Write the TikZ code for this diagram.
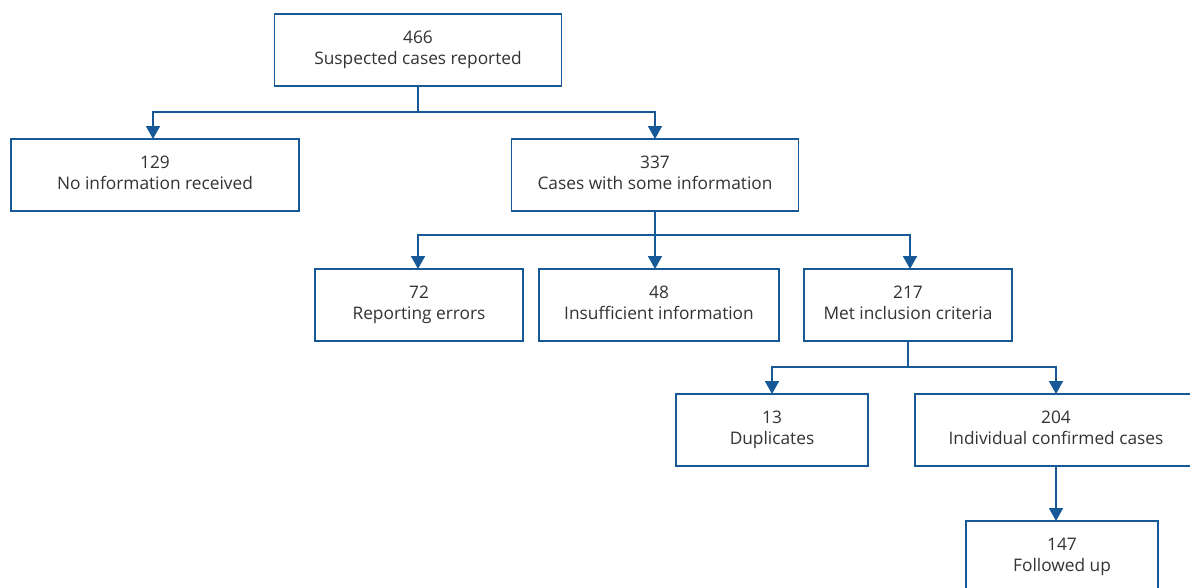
\documentclass[tikz,border=0pt]{standalone}
\usepackage{fontspec}
\setmainfont{Open Sans}
\usetikzlibrary{arrows.meta}
\definecolor{lineblue}{RGB}{22,89,150}
\definecolor{txt}{RGB}{51,51,51}
\newcommand{\twolines}[2]{\strut#1\\\strut#2}
\tikzset{
  box/.style={draw=lineblue, line width=1.8pt, fill=white, text=txt, align=center,
    inner sep=0pt, font=\fontsize{17.3}{21}\selectfont, minimum height=72pt},
  link/.style={draw=lineblue, line width=1.8pt},
  arr/.style={link, -{Triangle[length=13pt,width=14pt]}},
}
\begin{document}
\begin{tikzpicture}[x=1pt,y=-1pt]
\useasboundingbox (0,0) rectangle (1190,587);
\clip (0,0) rectangle (1190,587);
\node[box, minimum width=287pt] (top) at (418,50) {\twolines{466}{Suspected cases reported}};
\node[box, minimum width=288pt] (n129) at (155,175) {\twolines{129}{No information received}};
\node[box, minimum width=287pt] (n337) at (655,175) {\twolines{337}{Cases with some information}};
\node[box, minimum width=208pt] (n72) at (419,305) {\twolines{72}{Reporting errors}};
\node[box, minimum width=240pt] (n48) at (659,305) {\twolines{48}{Insufficient information}};
\node[box, minimum width=208pt] (n217) at (908,305) {\twolines{217}{Met inclusion criteria}};
\node[box, minimum width=192pt] (n13) at (772,430) {\twolines{13}{Duplicates}};
\node[box, minimum width=282pt] (n204) at (1056,430) {\twolines{204}{Individual confirmed cases}};
\node[box, minimum width=192pt] (n147) at (1062,557) {\twolines{147}{Followed up}};
\coordinate (j1) at (418,112);
\coordinate (j2) at (655,235);
\coordinate (j3) at (908,367);
\draw[link] (top.south) -- (j1);
\draw[arr] (j1) -| (153,139);
\draw[arr] (j1) -| (655,139);
\draw[link] (n337.south) -- (j2);
\draw[arr] (j2) -| (418,269);
\draw[arr] (j2) -- (655,269);
\draw[arr] (j2) -| (910,269);
\draw[link] (n217.south) -- (j3);
\draw[arr] (j3) -| (772,394);
\draw[arr] (j3) -| (1056,394);
\draw[arr] (n204.south) -- (1056,521);
\end{tikzpicture}
\end{document}
